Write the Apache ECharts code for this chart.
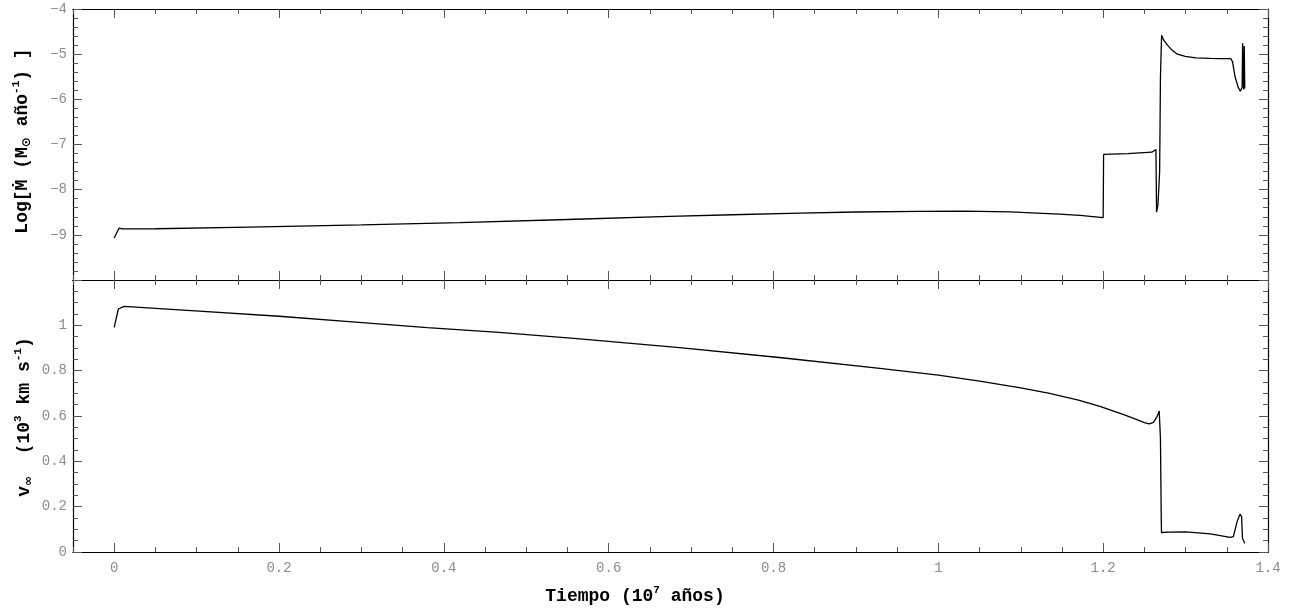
<!DOCTYPE html>
<html>
<head>
<meta charset="utf-8">
<script src="https://cdn.jsdelivr.net/npm/echarts@6/dist/echarts.min.js"></script>
<style>
html,body{margin:0;padding:0;background:#fff;}
#chart{width:1289px;height:611px;}
</style>
</head>
<body>
<div id="chart"></div>
<script>
// ---- Data (time in 10^7 yr) ----
const tMdot = [0.000, 0.006, 0.008, 0.010, 0.050, 0.164, 0.300, 0.419, 0.550, 0.674, 0.750, 0.832, 0.900, 0.977, 1.030, 1.087, 1.147, 1.172, 1.200,
  1.2005, 1.230, 1.259, 1.264, 1.2648, 1.2665, 1.2685, 1.2690, 1.2695, 1.2709, 1.2735, 1.278, 1.2835, 1.290, 1.2995, 1.3125, 1.330, 1.345, 1.355,
  1.357, 1.360, 1.364, 1.3665, 1.3686, 1.3692, 1.3704, 1.3712, 1.3718];
const logMdot = [-9.07, -8.85, -8.88, -8.87, -8.865, -8.83, -8.78, -8.73, -8.66, -8.59, -8.555, -8.52, -8.495, -8.48, -8.475, -8.49, -8.54, -8.57, -8.62,
  -7.22, -7.20, -7.17, -7.11, -8.50, -8.33, -7.60, -6.60, -5.50, -4.58, -4.69, -4.80, -4.91, -5.00, -5.05, -5.08, -5.095, -5.10, -5.10,
  -5.17, -5.50, -5.74, -5.82, -5.73, -4.76, -5.78, -4.82, -5.76];

const tVinf = [0.000, 0.005, 0.012, 0.103, 0.200, 0.285, 0.380, 0.467, 0.565, 0.686, 0.807, 0.929, 1.000, 1.050, 1.100, 1.135, 1.170, 1.196, 1.225, 1.240, 1.250, 1.256,
  1.261, 1.265, 1.268, 1.2695, 1.2705, 1.2708, 1.272, 1.280, 1.300, 1.330, 1.354, 1.358, 1.3625, 1.366, 1.368, 1.369, 1.371, 1.372];
const vInf = [0.991, 1.072, 1.084, 1.063, 1.040, 1.016, 0.990, 0.969, 0.940, 0.902, 0.858, 0.810, 0.780, 0.754, 0.724, 0.700, 0.670, 0.642, 0.606, 0.585, 0.571, 0.565,
  0.572, 0.595, 0.622, 0.500, 0.140, 0.086, 0.085, 0.088, 0.089, 0.080, 0.065, 0.068, 0.134, 0.167, 0.156, 0.061, 0.045, 0.038];

const xMajorTicks = [0, 0.2, 0.4, 0.6, 0.8, 1, 1.2, 1.4];
const xLabels = ['0', '0.2', '0.4', '0.6', '0.8', '1', '1.2', '1.4'];

// ---- Chart ----
const FONT = 'Liberation Mono';
const LABEL_COLOR = '#8c8c8c';
const TICK_COLOR = '#555';
const X_MIN = -0.05, X_MAX = 1.4;

function xAxisDef(gridIndex, position, major, showLabels) {
  const ax = {
    type: 'value', gridIndex: gridIndex, position: position,
    min: X_MIN, max: X_MAX, interval: 0.05,
    axisLine: { show: true, onZero: false, lineStyle: { color: '#000', width: 1.2 } },
    axisTick: { show: true, inside: true, length: major ? 9 : 5, lineStyle: { color: TICK_COLOR, width: 1 } },
    axisLabel: { show: false },
    splitLine: { show: false }
  };
  if (major) {
    ax.axisTick.customValues = xMajorTicks;
  }
  if (showLabels) {
    ax.axisLabel = {
      show: true, customValues: xMajorTicks, margin: 9,
      fontFamily: FONT, fontSize: 14, color: LABEL_COLOR,
      showMinLabel: true, showMaxLabel: true,
      formatter: function (v) {
        const i = xMajorTicks.findIndex(m => Math.abs(m - v) < 1e-9);
        return i >= 0 ? xLabels[i] : '';
      }
    };
  }
  return ax;
}

function yAxisDef(gridIndex, position, min, max, interval, minorSplit, showLabels, hideVal) {
  return {
    type: 'value', gridIndex: gridIndex, position: position,
    min: min, max: max, interval: interval,
    axisLine: { show: true, onZero: false, lineStyle: { color: '#000', width: 1.2 } },
    axisTick: { show: true, inside: true, length: 9, lineStyle: { color: TICK_COLOR, width: 1 } },
    minorTick: { show: true, splitNumber: minorSplit, length: 5, lineStyle: { color: TICK_COLOR, width: 1 } },
    axisLabel: {
      show: showLabels, margin: 6, fontFamily: FONT, fontSize: 14, color: LABEL_COLOR,
      showMinLabel: true, showMaxLabel: true,
      formatter: function (v) {
        if (Math.abs(v - hideVal) < 1e-9) return '';
        const s = String(Math.round(v * 1000) / 1000);
        return s.replace('-', '\u2212');
      }
    },
    splitLine: { show: false },
    minorSplitLine: { show: false }
  };
}

const chart = echarts.init(document.getElementById('chart'), null, { renderer: 'canvas' });

const titleRich = {
  b: { fontFamily: FONT, fontWeight: 'bold', fontSize: 18, color: '#000', lineHeight: 22 },
  sup: { fontFamily: FONT, fontWeight: 'bold', fontSize: 11, color: '#000', verticalAlign: 'top', lineHeight: 22 },
  sub: { fontFamily: 'DejaVu Sans', fontWeight: 'bold', fontSize: 12, color: '#000', verticalAlign: 'bottom', lineHeight: 18 }
};

const option = {
  backgroundColor: '#fff',
  animation: false,
  grid: [
    { left: 73, right: 21, top: 9, height: 271 },
    { left: 73, right: 21, top: 280, height: 272 }
  ],
  xAxis: [
    xAxisDef(0, 'bottom', false, false),
    xAxisDef(0, 'bottom', true, false),
    xAxisDef(0, 'top', false, false),
    xAxisDef(0, 'top', true, false),
    xAxisDef(1, 'bottom', false, false),
    xAxisDef(1, 'bottom', true, true),
    xAxisDef(1, 'top', false, false),
    xAxisDef(1, 'top', true, false)
  ],
  yAxis: [
    yAxisDef(0, 'left', -10, -4, 1, 5, true, -10),
    yAxisDef(0, 'right', -10, -4, 1, 5, false, -10),
    yAxisDef(1, 'left', 0, 1.2, 0.2, 4, true, 1.2),
    yAxisDef(1, 'right', 0, 1.2, 0.2, 4, false, 1.2)
  ],
  series: [
    {
      type: 'line', xAxisIndex: 0, yAxisIndex: 0, showSymbol: false, symbol: 'none',
      lineStyle: { color: '#000', width: 1.3 }, clip: true,
      data: tMdot.map((t, i) => [t, logMdot[i]])
    },
    {
      type: 'line', xAxisIndex: 4, yAxisIndex: 2, showSymbol: false, symbol: 'none',
      lineStyle: { color: '#000', width: 1.3 }, clip: true,
      data: tVinf.map((t, i) => [t, vInf[i]])
    }
  ],
  graphic: [
    {
      type: 'text', x: 22, y: 141, rotation: Math.PI / 2,
      style: {
        text: '{b|Log[\u1E40 (M}{sub|\u2299}{b| año}{sup|-1}{b|) ]}',
        rich: titleRich, align: 'center', verticalAlign: 'middle'
      }
    },
    {
      type: 'text', x: 24, y: 417, rotation: Math.PI / 2,
      style: {
        text: '{b|v}{sub|\u221E}{b|  (10}{sup|3}{b| km s}{sup|-1}{b|)}',
        rich: titleRich, align: 'center', verticalAlign: 'middle'
      }
    },
    {
      type: 'text', x: 635, y: 596,
      style: {
        text: '{b|Tiempo (10}{sup|7}{b| años)}',
        rich: titleRich, align: 'center', verticalAlign: 'middle'
      }
    }
  ]
};

chart.setOption(option);
</script>
</body>
</html>
